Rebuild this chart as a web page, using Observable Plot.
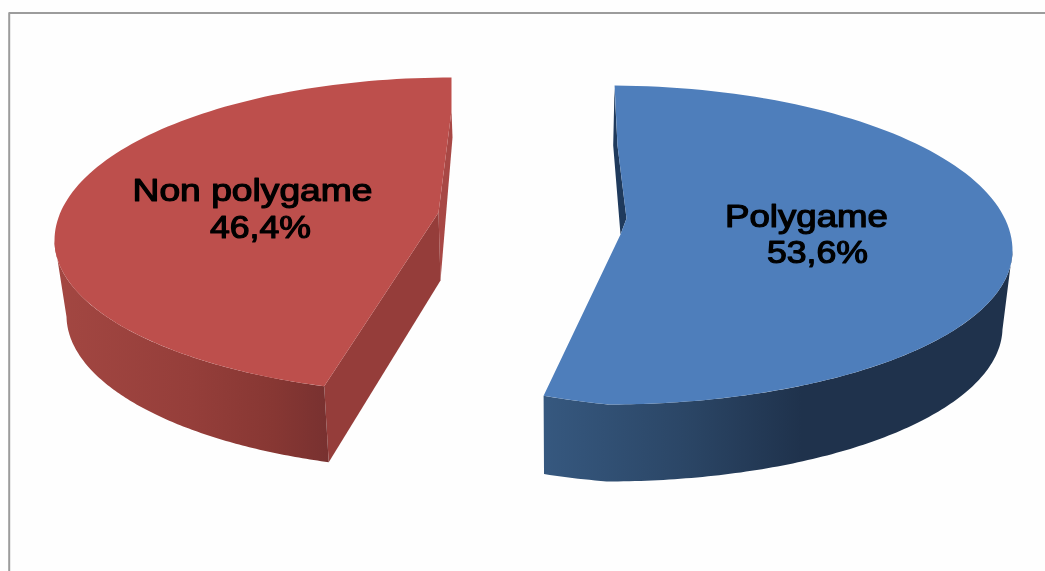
<!DOCTYPE html>
<html>
<head>
<meta charset="utf-8">
<script src="https://cdn.jsdelivr.net/npm/d3@7"></script>
<script src="https://cdn.jsdelivr.net/npm/@observablehq/plot@0.6"></script>
<style>html,body{margin:0;padding:0;background:#fff;overflow:hidden}svg{display:block}</style>
</head>
<body>
<div id="chart"></div>
<script>
const categories = ["Non polygame", "Polygame"];
const shares = [46.4, 53.6];

// 3D projection of each exploded slice (layout only)
const W = 1045, H = 571;
const redGeo = {
  top: {cx: 452, cy: 240, rx: 398, ryUp: 163, ryDown: 154},
  low: {cx: 453, cy: 315, rx: 387, ryDown: 155},
  start: 0, sweepScale: 0.965,
  apex: [438, 212], apexLow: [440, 280], tip: [451, 77], inner: [451, 110], rear: [452, 137]
};
const blueGeo = {
  top: {cx: 607, cy: 250, rx: 405, ryUp: 165, ryDown: 154, lift: 0.75},
  low: {cx: 606, cy: 327, rx: 396, ryDown: 154, lift: 0.6},
  start: 1, sweepScale: 0.9747,
  notch: [626, 218], inner: [617, 145], apex: [620, 234], rear: [612.7, 145], rearTop: [614, 88]
};

// parametric angle t in degrees, clockwise from top of the ellipse
function pt(e, t) {
  const a = t * Math.PI / 180, c = Math.cos(a), s = Math.sin(a);
  const lift = t > 180 ? (t - 180) * (e.lift || 0) : 0;
  return [e.cx + e.rx * s, e.cy - (c > 0 ? e.ryUp : e.ryDown) * c - lift];
}
function arc(e, t0, t1, n = 120) {
  return d3.range(n + 1).map(i => pt(e, t0 + (t1 - t0) * i / n));
}
const sweep = (geo, v) => v * 3.6 * geo.sweepScale;

// red slice
const rEnd = redGeo.start - sweep(redGeo, shares[0]);
const rArc = arc(redGeo.top, redGeo.start, rEnd);
const rTop = [redGeo.tip, ...rArc, redGeo.apex, redGeo.inner];
const rWall = [...arc(redGeo.top, -90, rEnd), ...arc(redGeo.low, rEnd, -90)];
const rEndTop = pt(redGeo.top, rEnd), rEndLow = pt(redGeo.low, rEnd);
const rCut = [redGeo.apex, redGeo.apexLow, rEndLow, rEndTop];
const rRear = [redGeo.inner, redGeo.rear, redGeo.apexLow, redGeo.apex];

// blue slice
const bEnd = blueGeo.start + sweep(blueGeo, shares[1]);
const bArc = arc(blueGeo.top, blueGeo.start, bEnd);
const bTop = [...bArc, blueGeo.apex, blueGeo.notch, blueGeo.inner];
const bWall = [...arc(blueGeo.top, 90, bEnd), ...arc(blueGeo.low, bEnd, 90)];
const bRear = [blueGeo.rearTop, blueGeo.rear, blueGeo.apex, blueGeo.notch, blueGeo.inner];

const frame = [[8.7, H], [8.7, 12.5], [W, 12.5]];

const pct = v => v.toFixed(1).replace(".", ",") + "%";
const labels = [
  {text: categories[0], x: 252, y: 200, w: 240},
  {text: pct(shares[0]), x: 260, y: 237, w: 101},
  {text: categories[1], x: 806, y: 226, w: 163},
  {text: pct(shares[1]), x: 817, y: 262, w: 101}
];

function gradient(id, stops) {
  const g = d3.create("svg:linearGradient").attr("id", id).attr("x1", 0).attr("x2", 1).attr("y1", 0).attr("y2", 0);
  stops.forEach(([o, c]) => g.append("stop").attr("offset", o).attr("stop-color", c));
  return g.node();
}
const defs = () => {
  const d = d3.create("svg:defs");
  d.node().append(gradient("redWall", [[0, "#a34742"], [0.5, "#953e3a"], [0.8, "#873733"], [1, "#783130"]]));
  d.node().append(gradient("blueWall", [[0, "#36587f"], [0.3, "#2b4666"], [0.55, "#1f324c"], [1, "#1f324c"]]));
  return d.node();
};

const poly = (pts, fill) => Plot.line(pts, {x: d => d[0], y: d => d[1], fill, stroke: "none"});
const stretch = (index, scales, values, dims, ctx, next) => {
  const g = next(index, scales, values, dims, ctx);
  g.querySelectorAll("text").forEach((t, i) => {
    t.setAttribute("textLength", labels[index[i]].w);
    t.setAttribute("lengthAdjust", "spacingAndGlyphs");
  });
  return g;
};

const chart = Plot.plot({
  width: W, height: H, margin: 0,
  x: {domain: [0, W], range: [0, W], axis: null},
  y: {domain: [0, H], range: [0, H], axis: null},
  style: {background: "#fefefe"},
  marks: [
    defs,
    Plot.line(frame, {x: d => d[0], y: d => d[1], stroke: "#9c9c9c", strokeWidth: 2, curve: "linear"}),
    poly(rRear, "#a84845"),
    poly(rCut, "#953d3a"),
    poly(rWall, "url(#redWall)"),
    poly(rTop, "#bd4f4c"),
    poly(bRear, "#1f3a5c"),
    poly(bWall, "url(#blueWall)"),
    poly(bTop, "#4e7ebb"),
    Plot.text(labels, {
      x: "x", y: "y", text: "text",
      fontFamily: "Liberation Sans, Arial, sans-serif", fontSize: 31,
      fill: "#000", stroke: "#000", strokeWidth: 1.2,
      textAnchor: "middle", lineAnchor: "bottom",
      render: stretch
    })
  ]
});
chart.style.filter = "blur(0.6px)";
document.getElementById("chart").append(chart);
</script>
</body>
</html>
